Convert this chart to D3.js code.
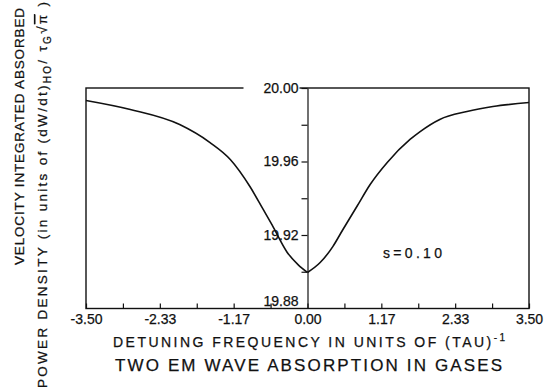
<!DOCTYPE html>
<html>
<head>
<meta charset="utf-8">
<script src="https://cdn.jsdelivr.net/npm/d3@7"></script>
<style>
  body { margin: 0; background: #fff; }
  text { font-family: "Liberation Sans", Arial, sans-serif; fill: #111; stroke: #111; stroke-width: 0.25px; }
</style>
</head>
<body>
<div id="chart"></div>
<script>
// detuning frequency (units of 1/tau) and absorbed power density
var freqLeft = [-3.50, -2.80, -2.02, -1.54, -1.22, -0.91, -0.70, -0.56, -0.32, -0.15, 0.00];
var powerLeft = [19.9932, 19.9883, 19.9801, 19.9703, 19.9611, 19.9464, 19.9339, 19.9255, 19.9105, 19.9039, 19.8996];
var freqRight = [0.00, 0.20, 0.40, 0.56, 0.78, 0.99, 1.26, 1.62, 1.78, 2.09, 2.52, 2.93, 3.50];
var powerRight = [19.8996, 19.9050, 19.9137, 19.9230, 19.9355, 19.9475, 19.9595, 19.9720, 19.9763, 19.9829, 19.9872, 19.9899, 19.9921];

var xTicks = [-3.5, -2.9167, -2.3333, -1.75, -1.1667, -0.5833, 0, 0.5833, 1.1667, 1.75, 2.3333, 2.9167, 3.5];
var xTickLabels = ["-3.50", "", "-2.33", "", "-1.17", "", "0.00", "", "1.17", "", "2.33", "", "3.50"];
var yTicks = [19.88, 19.90, 19.92, 19.94, 19.96, 19.98, 20.00];
var yTickLabels = ["19.88", "", "19.92", "", "19.96", "", "20.00"];

var width = 550, height = 392;
var svg = d3.select("#chart").append("svg")
    .attr("width", width)
    .attr("height", height);

var x = d3.scaleLinear().domain([-3.5, 3.5]).range([86, 529]);
var y = d3.scaleLinear().domain([19.88, 20.00]).range([308.5, 88]);

// frame
svg.append("rect")
    .attr("x", x(-3.5)).attr("y", y(20.00))
    .attr("width", x(3.5) - x(-3.5)).attr("height", y(19.88) - y(20.00))
    .attr("fill", "none").attr("stroke", "#111").attr("stroke-width", 1.4);

// bottom axis, ticks pointing up
var xAxis = d3.axisBottom(x)
    .tickValues(xTicks)
    .tickSizeInner(-5)
    .tickSizeOuter(0)
    .tickPadding(6)
    .tickFormat((d, i) => xTickLabels[i]);
var gx = svg.append("g")
    .attr("transform", "translate(0," + y(19.88) + ")")
    .call(xAxis);
gx.select(".domain").remove();
gx.selectAll("line").attr("stroke", "#111").attr("stroke-width", 1.2);
gx.selectAll("text").attr("font-size", 14).attr("fill", "#111")
    .style("font-family", "'Liberation Sans', Arial, sans-serif");

// centre axis at zero detuning
var yAxis = d3.axisLeft(y)
    .tickValues(yTicks)
    .tickSizeInner(6)
    .tickSizeOuter(0)
    .tickPadding(3)
    .tickFormat((d, i) => yTickLabels[i]);
var gy = svg.append("g")
    .attr("transform", "translate(" + x(0) + ",0)")
    .call(yAxis);
gy.select(".domain").attr("stroke", "#111").attr("stroke-width", 1.2);
gy.selectAll("line").attr("stroke", "#111").attr("stroke-width", 1.2);
gy.selectAll(".tick").filter(d => d === 19.88).select("line").remove();
gy.selectAll(".tick").filter(d => d === 19.88).select("text").attr("dy", "-0.2em");
gy.selectAll("text").attr("font-size", 14).attr("fill", "#111")
    .style("font-family", "'Liberation Sans', Arial, sans-serif");
// white gap in the top border behind the 20.00 label
gy.selectAll(".tick").filter(d => d === 20.00).insert("rect", "text")
    .attr("x", -64).attr("y", -7).attr("width", 56).attr("height", 14)
    .attr("fill", "#fff");

// curve, drawn in two halves so the cusp at zero stays sharp
var line = d3.line()
    .x(d => x(d[0]))
    .y(d => y(d[1]))
    .curve(d3.curveMonotoneX);
svg.append("path")
    .datum(freqLeft.map((f, i) => [f, powerLeft[i]]))
    .attr("d", line)
    .attr("fill", "none").attr("stroke", "#111").attr("stroke-width", 1.6);
svg.append("path")
    .datum(freqRight.map((f, i) => [f, powerRight[i]]))
    .attr("d", line)
    .attr("fill", "none").attr("stroke", "#111").attr("stroke-width", 1.6);

svg.append("text")
    .attr("x", 383).attr("y", 258)
    .attr("font-size", 14)
    .attr("textLength", 59)
    .attr("lengthAdjust", "spacing")
    .text("s=0.10");

// x axis title
var xt = svg.append("text")
    .attr("x", 113).attr("y", 347)
    .attr("font-size", 14)
    .attr("textLength", 392)
    .attr("lengthAdjust", "spacing");
xt.append("tspan").text("DETUNING FREQUENCY IN UNITS OF (TAU)");
xt.append("tspan").attr("dy", -6).attr("font-size", 10).text("-1");

svg.append("text")
    .attr("x", 115).attr("y", 371)
    .attr("font-size", 17)
    .attr("textLength", 387)
    .attr("lengthAdjust", "spacing")
    .text("TWO EM WAVE ABSORPTION IN GASES");

// y axis title, two rotated lines
svg.append("text")
    .attr("transform", "translate(24,265) rotate(-90)")
    .attr("font-size", 13.5)
    .attr("textLength", 257)
    .attr("lengthAdjust", "spacing")
    .text("VELOCITY  INTEGRATED  ABSORBED");

var yt = svg.append("text")
    .attr("transform", "translate(47,388) rotate(-90)")
    .attr("font-size", 13.5)
    .attr("textLength", 386)
    .attr("lengthAdjust", "spacing");
yt.append("tspan").text("POWER  DENSITY (in units of (dW/dt)");
yt.append("tspan").attr("dy", 4).attr("font-size", 10).text("HO");
yt.append("tspan").attr("dy", -4).text("/ \u03c4");
yt.append("tspan").attr("dy", 4).attr("font-size", 10).text("G");
yt.append("tspan").attr("dy", -4).text("\u221a");
yt.append("tspan").style("text-decoration", "overline").text("\u03c0");
yt.append("tspan").text(" )");
</script>
</body>
</html>
